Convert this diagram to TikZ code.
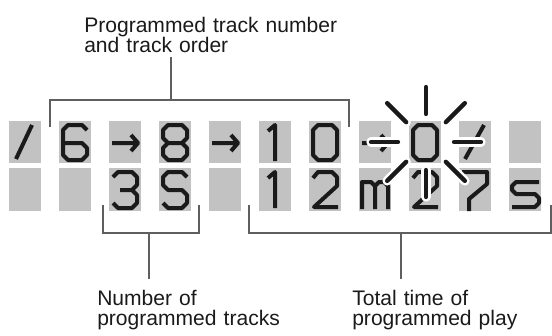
\documentclass[tikz,border=0pt]{standalone}
\usepackage{fontspec}
\setmainfont{Liberation Sans}
\usetikzlibrary{positioning}
\definecolor{lcdGray}{HTML}{C2C2C2}
\definecolor{segBlack}{HTML}{1A1A1A}
\definecolor{leaderGray}{HTML}{5F5F5F}
\tikzset{
  cellBox/.style={rectangle, fill=lcdGray, minimum width=24pt, inner sep=0pt, outer sep=0pt},
  segLine/.style={draw=segBlack, line width=3pt, line join=round},
  rayHalo/.style={draw=white, line width=7pt, line cap=round},
  rayLine/.style={draw=segBlack, line width=3.2pt, line cap=round},
  leader/.style={draw=leaderGray, line width=1.5pt},
  labelText/.style={font=\fontsize{15.8}{15}\selectfont, text=segBlack, align=left,
                    text width=200pt, inner xsep=0pt, anchor=base west},
  pics/gSlash/.style={code={\draw[segLine] (7,38) -- (23,4);}},
  pics/gSlashB/.style={code={\draw[segLine] (6,38) -- (25,4);}},
  pics/gArrow/.style={code={\draw[segLine] (3,22) -- (29,22) (22,14) -- (29,22) -- (22,30);}},
  pics/gSix/.style={code={\draw[segLine] (28,9) -- (23,4) -- (9,4) -- (4,9) -- (4,34) -- (9,39)
                    -- (23,39) -- (28,34) -- (28,27) -- (23,22) -- (4,22);}},
  pics/gEight/.style={code={\draw[segLine] (9,4) -- (23,4) -- (28,9) -- (28,17) -- (23,22) -- (9,22)
                    -- (4,17) -- (4,9) -- cycle (9,22) -- (4,27) -- (4,34) -- (9,39) -- (23,39)
                    -- (28,34) -- (28,27) -- (23,22);}},
  pics/gOne/.style={code={\draw[segLine] (9,10) -- (16,4) -- (16,40);}},
  pics/gZero/.style={code={\draw[segLine] (9,4) -- (23,4) -- (28,9) -- (28,34) -- (23,39) -- (9,39)
                    -- (4,34) -- (4,9) -- cycle;}},
  pics/gThree/.style={code={\draw[segLine] (4,9) -- (9,4) -- (23,4) -- (28,9) -- (28,17) -- (23,22)
                    -- (11,22) (23,22) -- (28,27) -- (28,35) -- (23,40) -- (9,40) -- (4,35);}},
  pics/gEss/.style={code={\draw[segLine] (28,9) -- (23,4) -- (9,4) -- (4,9) -- (4,17) -- (9,22)
                    -- (23,22) -- (28,27) -- (28,35) -- (23,40) -- (9,40) -- (4,35);}},
  pics/gTwo/.style={code={\draw[segLine] (4,10) -- (9,4) -- (23,4) -- (28,9) -- (28,18) -- (5,39)
                    -- (29,39);}},
  pics/gEm/.style={code={\draw[segLine] (3,41) -- (3,14) -- (12,14) -- (16,18) -- (16,41)
                    (16,18) -- (20,14) -- (25,14) -- (29,18) -- (29,41);}},
  pics/gSeven/.style={code={\draw[segLine] (3,4) -- (28,4) -- (28,16) -- (10,31) -- (10,43);}},
  pics/gSmallS/.style={code={\draw[segLine] (30,14) -- (7,14) -- (3,18) -- (3,22) -- (7,26) -- (26,26)
                    -- (30,30) -- (30,35) -- (26,39) -- (3,39);}},
}
\begin{document}
\begin{tikzpicture}[x=0.75pt, y=-0.75pt]
  \useasboundingbox (0,0) rectangle (552,335);
  % display cells
  \foreach \i in {0,...,10} {
    \node[cellBox, minimum height=31.5pt] (t\i) at (25+50*\i,142) {};
    \node[cellBox, minimum height=32.25pt] (b\i) at (25+50*\i,189.5) {};
  }
  % upper row
  \pic at (t0.north west) {gSlash};
  \pic at (t1.north west) {gSix};
  \pic at (t2.north west) {gArrow};
  \pic at (t3.north west) {gEight};
  \pic at (t4.north west) {gArrow};
  \pic at (t5.north west) {gOne};
  \pic at (t6.north west) {gZero};
  \pic at (t7.north west) {gArrow};
  \pic at (t8.north west) {gZero};
  \pic at (t9.north west) {gSlashB};
  % lower row
  \pic at (b2.north west) {gThree};
  \pic at (b3.north west) {gEss};
  \pic at (b5.north west) {gOne};
  \pic at (b6.north west) {gTwo};
  \pic at (b7.north west) {gEm};
  \pic at (b8.north west) {gTwo};
  \pic at (b9.north west) {gSeven};
  \pic at (b10.north west) {gSmallS};
  % blinking digit
  \coordinate (burst) at ([xshift=0.75pt]t8.center);
  \foreach \a in {0,45,...,315} {
    \draw[rayHalo] (burst) ++(\a:28) -- ++(\a:27);
    \draw[rayLine] (burst) ++(\a:28) -- ++(\a:27);
  }
  % labels
  \node[labelText, inner ysep=3pt] (lblOrder) at (84,33) {Programmed track number\\and track order};
  \node[labelText, inner ysep=8pt] (lblCount) at (97,305) {Number of\\programmed tracks};
  \node[labelText, inner ysep=8pt] (lblTime) at (352,305) {Total time of\\programmed play};
  % brackets
  \coordinate (oL) at (50,127); \coordinate (oR) at (349,127); \coordinate (oStem) at (171,100);
  \coordinate (cL) at (103,205); \coordinate (cR) at (199,205); \coordinate (cStem) at (149,233);
  \coordinate (tL) at (249,205); \coordinate (tR) at (551,205); \coordinate (tStem) at (401,233);
  \draw[leader] (oL) |- (oStem) -| (oR);
  \draw[leader] (cL) |- (cStem) -| (cR);
  \draw[leader] (tL) |- (tStem) -| (tR);
  \draw[leader] (lblOrder.south -| oStem) -- (oStem);
  \draw[leader] (cStem) -- (cStem |- lblCount.north);
  \draw[leader] (tStem) -- (tStem |- lblTime.north);
\end{tikzpicture}
\end{document}
